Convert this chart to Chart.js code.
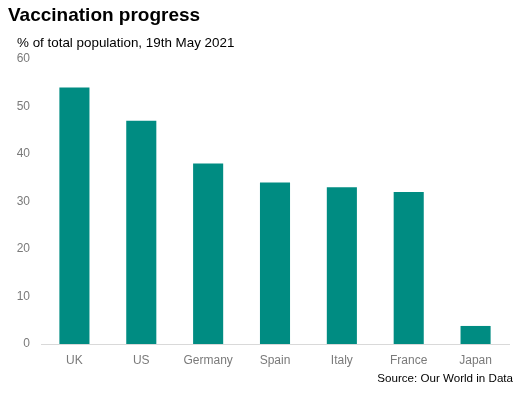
<!DOCTYPE html>
<html>
<head>
<meta charset="utf-8">
<script src="https://cdn.jsdelivr.net/npm/chart.js@4"></script>
<style>
  body { margin: 0; background: #fff; }
  #wrap { position: relative; width: 526px; height: 395px; font-family: "Liberation Sans", Arial, sans-serif; }
  #chart { position: absolute; left: 0; top: 0; }
  .title { position: absolute; left: 8px; top: 4px; font-size: 19px; font-weight: bold; color: #000; }
  .subtitle { position: absolute; left: 17px; top: 35px; font-size: 13.4px; color: #000; }
  .source { position: absolute; right: 13px; top: 371px; font-size: 11.6px; color: #000; }
</style>
</head>
<body>
<div id="wrap">
  <canvas id="chart" width="526" height="395"></canvas>
  <div class="title">Vaccination progress</div>
  <div class="subtitle">% of total population, 19th May 2021</div>
  <div class="source">Source: Our World in Data</div>
</div>
<script>
// ================================
//           DATA
// ================================
const countries = ["UK", "US", "Germany", "Spain", "Italy", "France", "Japan"];
const vaccinated = [54, 47, 38, 34, 33, 32, 3.8];

const teal = "#008c82";
const tickGrey = "#7a7a7a";

// ================================
//           CHART
// ================================
new Chart(document.getElementById("chart"), {
  type: "bar",
  data: {
    labels: countries,
    datasets: [
      {
        data: vaccinated,
        backgroundColor: teal,
        barPercentage: 0.9,
        categoryPercentage: 0.5,
      },
    ],
  },
  options: {
    responsive: false,
    animation: false,
    layout: { padding: { top: 59, right: 17, bottom: 21, left: 1 } },
    plugins: { legend: { display: false }, tooltip: { enabled: false } },
    scales: {
      x: {
        grid: { display: false, drawTicks: false },
        border: { color: "#d9d9d9", width: 1 },
        ticks: {
          color: tickGrey,
          padding: 9,
          font: { family: "Liberation Sans", size: 12 },
        },
        afterFit: (scale) => { scale.height = 30; },
      },
      y: {
        min: 0,
        max: 60,
        grid: { display: false, drawTicks: false },
        border: { display: false },
        ticks: {
          stepSize: 10,
          color: tickGrey,
          padding: 11,
          font: { family: "Liberation Sans", size: 12 },
        },
        afterFit: (scale) => { scale.width = 40; },
      },
    },
  },
});
</script>
</body>
</html>
